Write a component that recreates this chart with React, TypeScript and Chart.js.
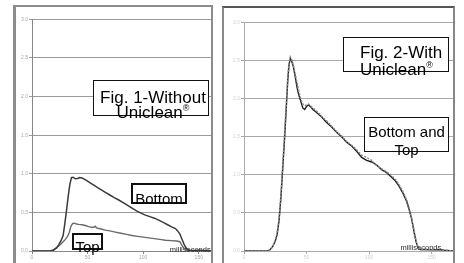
import { useEffect, useRef } from "react";
import { Chart, registerables } from "chart.js";

Chart.register(...registerables);

// ---------- data ----------
const xTicksStep = 50;
const yTicks = [0, 0.5, 1, 1.5, 2, 2.5, 3];
const axisTitle = "milliseconds";

// Fig. 1 (without Uniclean)
const fig1BottomX = [0, 16, 19, 22, 24, 26, 28, 29.5, 31, 32.5, 34, 35.5, 37, 39, 41, 43, 45, 47, 50, 53, 56, 59, 62, 66, 70, 74, 78, 82, 86, 90, 94, 98, 102, 106, 110, 114, 118, 122, 126, 129, 131, 133, 135, 137, 139, 141, 145, 150, 155, 161];
const fig1BottomY = [0, 0, 0.01, 0.04, 0.08, 0.13, 0.2, 0.35, 0.52, 0.7, 0.86, 0.95, 0.955, 0.935, 0.94, 0.95, 0.945, 0.93, 0.905, 0.875, 0.85, 0.82, 0.795, 0.76, 0.725, 0.69, 0.66, 0.625, 0.59, 0.555, 0.52, 0.49, 0.465, 0.445, 0.425, 0.4, 0.37, 0.34, 0.31, 0.29, 0.26, 0.22, 0.15, 0.08, 0.03, 0.01, 0.005, 0.01, 0.005, 0];
const fig1TopX = [0, 16, 19, 22, 24, 26, 28, 30, 32, 33.5, 35, 36.5, 38, 40, 42, 45, 48, 51, 54, 56, 57, 58, 62, 66, 70, 75, 80, 85, 90, 95, 100, 105, 110, 115, 120, 125, 130, 133, 135, 137, 139, 141, 161];
const fig1TopY = [0, 0, 0.01, 0.04, 0.065, 0.09, 0.12, 0.15, 0.19, 0.24, 0.32, 0.355, 0.36, 0.35, 0.345, 0.34, 0.33, 0.315, 0.305, 0.31, 0.32, 0.3, 0.285, 0.27, 0.26, 0.245, 0.23, 0.215, 0.2, 0.19, 0.18, 0.17, 0.16, 0.15, 0.14, 0.135, 0.13, 0.12, 0.07, 0.03, 0.01, 0, 0];

// Fig. 2 (with Uniclean)
const fig2X = [0, 19, 21, 23, 25, 26.5, 28, 29.5, 31, 32.5, 34, 35, 36, 37, 38, 39.5, 41, 42.5, 44, 45.5, 47, 48.5, 50, 51.5, 53, 55, 58, 62, 66, 70, 74, 78, 82, 86, 90, 94, 98, 102, 106, 110, 114, 118, 121, 124, 127, 130, 132, 134, 136, 137.5, 139, 141, 145, 150, 155, 160, 167];
const fig2BottomY = [0, 0, 0.02, 0.06, 0.13, 0.22, 0.4, 0.7, 1.1, 1.5, 1.95, 2.25, 2.45, 2.53, 2.5, 2.42, 2.28, 2.14, 2.04, 1.96, 1.88, 1.86, 1.9, 1.92, 1.9, 1.86, 1.82, 1.76, 1.69, 1.63, 1.56, 1.5, 1.43, 1.38, 1.31, 1.23, 1.19, 1.17, 1.13, 1.07, 1.03, 0.97, 0.92, 0.85, 0.76, 0.65, 0.54, 0.42, 0.24, 0.12, 0.05, 0.02, 0.02, 0.015, 0.02, 0.01, 0];
const fig2TopY = [0, 0, 0.02, 0.06, 0.14, 0.24, 0.43, 0.74, 1.15, 1.56, 2.0, 2.3, 2.48, 2.55, 2.52, 2.44, 2.32, 2.2, 2.08, 1.99, 1.93, 1.91, 1.92, 1.93, 1.91, 1.88, 1.84, 1.77, 1.71, 1.64, 1.57, 1.51, 1.44, 1.39, 1.33, 1.26, 1.23, 1.19, 1.12, 1.08, 1.04, 0.99, 0.94, 0.87, 0.78, 0.67, 0.56, 0.43, 0.26, 0.13, 0.05, 0.02, 0.015, 0.02, 0.01, 0.01, 0];

const pts = (xs: number[], ys: number[]) => xs.map((x, i) => ({ x, y: ys[i] }));

const FONT = '"Liberation Sans", Arial, sans-serif';

const notePlugin = {
  id: "note",
  beforeDatasetsDraw(chart: any, _a: any, opts: any) {
    if (!opts || !opts.text) return;
    const { ctx, scales } = chart;
    const px = scales.x.getPixelForValue(opts.x);
    const py = scales.y.getPixelForValue(0) + (opts.dy || 0);
    ctx.save();
    ctx.font = `${opts.size}px ${FONT}`;
    ctx.fillStyle = opts.color;
    ctx.textAlign = "left";
    ctx.textBaseline = "alphabetic";
    ctx.fillText(opts.text, px, py);
    ctx.restore();
  },
};

type PanelProps = {
  width: number;
  height: number;
  padTop: number;
  yWidth: number;
  xMax: number;
  datasets: any[];
  gridColor: string;
  axisColor: string;
  tickColor: string;
  noteX: number;
  noteDy: number;
};

function Panel(p: PanelProps) {
  const ref = useRef<HTMLCanvasElement | null>(null);
  useEffect(() => {
    if (!ref.current) return;
    const chart = new Chart(ref.current, {
      type: "line",
      data: { datasets: p.datasets },
      plugins: [notePlugin],
      options: {
        animation: false,
        responsive: false,
        maintainAspectRatio: false,
        events: [],
        layout: { padding: { top: p.padTop, left: 0, right: 0, bottom: 0 } },
        plugins: {
          legend: { display: false },
          tooltip: { enabled: false },
          note: { text: axisTitle, x: p.noteX, dy: p.noteDy, size: 7.5, color: "#2a2a2a" },
        } as any,
        scales: {
          x: {
            type: "linear",
            min: 0,
            max: p.xMax,
            ticks: {
              stepSize: xTicksStep,
              includeBounds: false,
              autoSkip: false,
              maxRotation: 0,
              padding: 1,
              color: p.tickColor,
              font: { size: 5, family: FONT },
            },
            grid: { drawOnChartArea: false, tickLength: 3, color: p.axisColor },
            border: { color: p.axisColor, width: 1 },
            afterFit: (s: any) => {
              s.height = 14;
            },
          },
          y: {
            type: "linear",
            min: 0,
            max: 3,
            afterBuildTicks: (s: any) => {
              s.ticks = yTicks.map((v) => ({ value: v }));
            },
            ticks: {
              padding: 1,
              color: p.tickColor,
              font: { size: 5, family: FONT },
              callback: (v: any) => Number(v).toFixed(1),
            },
            grid: { color: p.gridColor, tickLength: 3, lineWidth: 1 },
            border: { color: p.axisColor, width: 1 },
            afterFit: (s: any) => {
              s.width = p.yWidth;
            },
          },
        },
      } as any,
    });
    return () => chart.destroy();
  }, []);
  return (
    <canvas
      ref={ref}
      width={p.width}
      height={p.height}
      style={{ position: "absolute", left: 0, top: 0, width: p.width, height: p.height }}
    />
  );
}

function Box(props: {
  left: number;
  top: number;
  width: number;
  height: number;
  border: number;
  textTop: number;
  fontSize: number;
  lineHeight: number;
  align?: "center" | "left";
  padLeft?: number;
  children: any;
}) {
  return (
    <div
      style={{
        position: "absolute",
        left: props.left,
        top: props.top,
        width: props.width,
        height: props.height,
        boxSizing: "border-box",
        border: `${props.border}px solid #111`,
        background: "#fff",
      }}
    >
      <div
        style={{
          position: "absolute",
          left: props.padLeft || 0,
          right: 0,
          top: props.textTop,
          textAlign: props.align || "center",
          fontSize: props.fontSize,
          lineHeight: `${props.lineHeight}px`,
          whiteSpace: "nowrap",
          color: "#000",
          fontFamily: FONT,
        }}
      >
        {props.children}
      </div>
    </div>
  );
}

const Reg = () => (
  <span style={{ fontSize: 9, position: "relative", top: -7 }}>®</span>
);

export default function App() {
  const fig1Sets = [
    {
      data: pts(fig1BottomX, fig1BottomY),
      borderColor: "#3a3a3a",
      borderWidth: 1.5,
      pointRadius: 0,
      tension: 0,
      fill: false,
    },
    {
      data: pts(fig1TopX, fig1TopY),
      borderColor: "#6a6a6a",
      borderWidth: 1.4,
      pointRadius: 0,
      tension: 0,
      fill: false,
    },
  ];
  const fig2Sets = [
    {
      data: pts(fig2X, fig2TopY),
      borderColor: "#8a8a8a",
      borderWidth: 1.5,
      borderDash: [2, 1.5],
      pointRadius: 0,
      tension: 0,
      fill: false,
    },
    {
      data: pts(fig2X, fig2BottomY),
      borderColor: "#1e1e1e",
      borderWidth: 1.4,
      pointRadius: 0,
      tension: 0,
      fill: false,
    },
  ];

  return (
    <div
      style={{
        position: "fixed",
        left: 0,
        top: 0,
        width: 464,
        height: 263,
        overflow: "hidden",
        background: "#fff",
        fontFamily: FONT,
      }}
    >
      <div
        style={{
          position: "absolute",
          left: 14,
          top: 5,
          width: 195,
          height: 300,
          border: "2px solid #8c8c8c",
          borderLeft: "3px solid #8c8c8c",
          marginLeft: -1,
        }}
      >
        <Panel
          width={195}
          height={258}
          padTop={12.3}
          yWidth={16}
          xMax={161}
          datasets={fig1Sets}
          gridColor="#9a9a9a"
          axisColor="#888"
          tickColor="#a8a8a8"
          noteX={124}
          noteDy={0.5}
        />
      </div>
      <div
        style={{
          position: "absolute",
          left: 222,
          top: 6,
          width: 229,
          height: 300,
          border: "2px solid #888",
          borderTop: "2px solid #555",
        }}
      >
        <Panel
          width={229}
          height={257}
          padTop={14.7}
          yWidth={20}
          xMax={167}
          datasets={fig2Sets}
          gridColor="#aaa"
          axisColor="#aaa"
          tickColor="#d0d0d0"
          noteX={125}
          noteDy={-1.5}
        />
      </div>

      <Box left={93} top={80} width={116} height={36} border={1} textTop={10} fontSize={17} lineHeight={14.5} padLeft={4}>
        <div>Fig. 1-Without</div>
        <div>
          Uniclean
          <Reg />
        </div>
      </Box>
      <Box left={131} top={183} width={56} height={21} border={2} textTop={6.3} fontSize={15} lineHeight={15}>
        Bottom
      </Box>
      <Box left={72} top={233} width={31} height={17} border={2} textTop={3.7} fontSize={15} lineHeight={15}>
        Top
      </Box>
      <Box left={343} top={37} width={106} height={35} border={1} textTop={6} fontSize={17} lineHeight={17} align="left" padLeft={16}>
        <div>Fig. 2-With</div>
        <div>
          Uniclean
          <Reg />
        </div>
      </Box>
      <Box left={364} top={117} width={85} height={35} border={1} textTop={4.5} fontSize={15} lineHeight={18}>
        <div>Bottom and</div>
        <div>Top</div>
      </Box>
    </div>
  );
}
